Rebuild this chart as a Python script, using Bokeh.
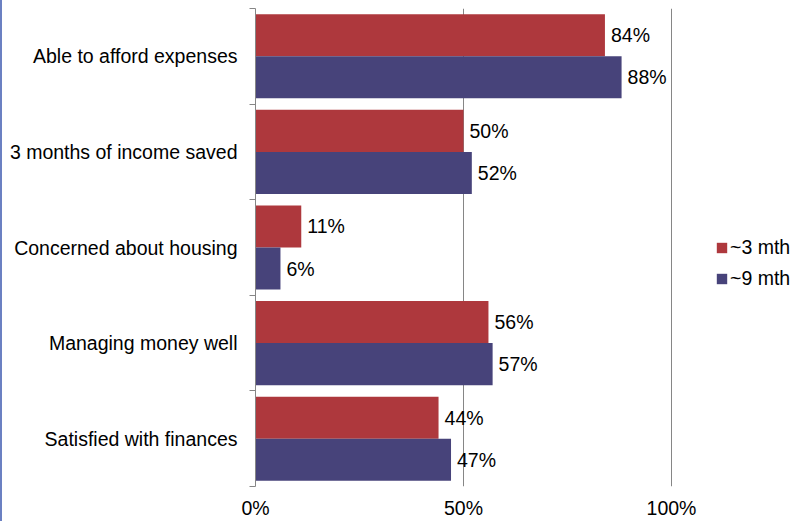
import numpy as np
from bokeh.plotting import figure
from bokeh.models import (ColumnDataSource, Range1d, FixedTicker, Legend, LegendItem,
                          PrintfTickFormatter)
from bokeh.core.properties import value
from bokeh.embed import file_html
from bokeh.resources import INLINE

categories = ["Able to afford expenses", "3 months of income saved",
              "Concerned about housing", "Managing money well",
              "Satisfied with finances"]
series_names = ["~3 mth", "~9 mth"]
values_3mth = [84, 50, 11, 56, 44]
values_9mth = [88, 52, 6, 57, 47]
x_ticks = [0, 50, 100]

colors = ["#AE383D", "#47437A"]
FONT = "Liberation Sans"
FS = "19.5px"
n = len(categories)
centers = n - np.arange(n) - 0.5
bar_h = 0.44

W, H = 791, 521
left, top, bottom = 253, 8, 35
frame_w = W - left
x_end = 100 * frame_w / 416.0

p = figure(width=W, height=H, output_backend="svg", toolbar_location=None,
           x_range=Range1d(0, x_end), y_range=Range1d(0, n),
           min_border_left=left, min_border_right=0, min_border_top=top,
           min_border_bottom=bottom)
p.outline_line_color = None
p.background_fill_color = "white"
p.border_fill_color = "white"
p.styles = {"border-left": "2px solid #6B80C2"}

renderers = []
for vals, off, col in [(values_3mth, bar_h / 2, colors[0]), (values_9mth, -bar_h / 2, colors[1])]:
    src = ColumnDataSource(dict(y=centers + off, right=vals,
                                lab=[f"{v}%" for v in vals]))
    r = p.hbar(y="y", left=0, right="right", height=bar_h, source=src,
               fill_color=col, line_color=None)
    renderers.append(r)
    p.text(x="right", y="y", text="lab", source=src, x_offset=6,
           text_baseline="middle", text_align="left",
           text_font=value(FONT), text_font_size=FS, text_color="black")

# y axis: labels at band centres, tick marks at band boundaries
ya = p.yaxis[0]
ya.ticker = FixedTicker(ticks=list(centers), minor_ticks=list(range(n + 1)))
ya.major_label_overrides = {float(c): categories[i] for i, c in enumerate(centers)}
ya.major_tick_out = 0
ya.major_tick_in = 0
ya.minor_tick_out = 6
ya.minor_tick_in = 0
ya.minor_tick_line_color = "#868686"
ya.axis_line_color = "#868686"
ya.major_label_standoff = 12
ya.major_label_text_font = FONT
ya.major_label_text_font_size = FS
ya.major_label_text_color = "black"

xa = p.xaxis[0]
xa.ticker = FixedTicker(ticks=x_ticks)
xa.formatter = PrintfTickFormatter(format="%d%%")
xa.axis_line_color = None
xa.major_tick_out = 0
xa.major_tick_in = 0
xa.minor_tick_line_color = None
xa.major_label_standoff = 10
xa.major_label_text_font = FONT
xa.major_label_text_font_size = FS
xa.major_label_text_color = "black"

p.ygrid.grid_line_color = None
p.xgrid.ticker = FixedTicker(ticks=[50, 100])
p.xgrid.grid_line_color = "#868686"
p.xgrid.grid_line_width = 1

legend = Legend(items=[LegendItem(label=series_names[i], renderers=[renderers[i]]) for i in range(2)],
                location=(460, 196), padding=0, margin=0, spacing=8,
                glyph_width=13, glyph_height=13, label_height=20, label_standoff=2,
                label_text_font=FONT, label_text_font_size=FS,
                label_text_color="black", border_line_color=None,
                background_fill_alpha=0)
p.add_layout(legend)

open("out.html", "w").write(file_html(p, INLINE))
